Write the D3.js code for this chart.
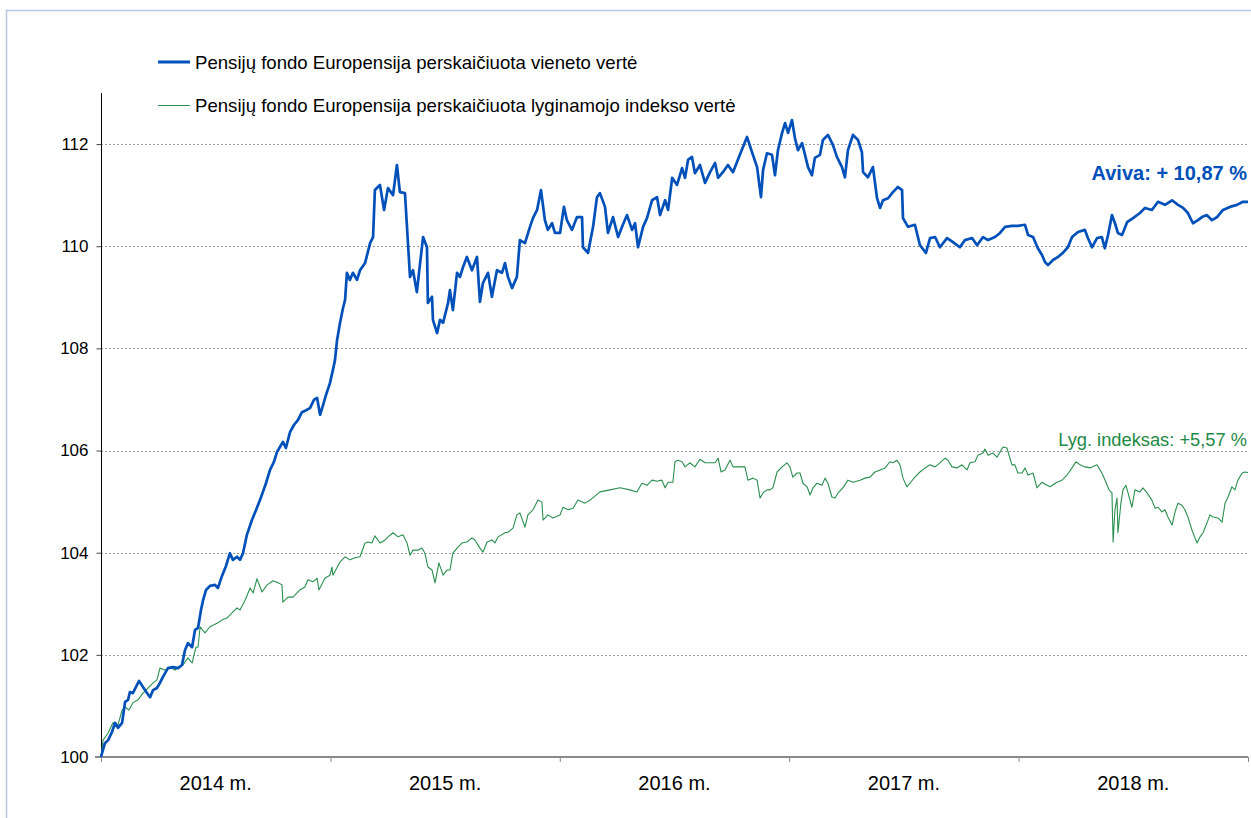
<!DOCTYPE html>
<html>
<head>
<meta charset="utf-8">
<script src="https://cdn.jsdelivr.net/npm/d3@7"></script>
<style>
  body { margin: 0; background: #fff; }
  svg { display: block; font-family: "Liberation Sans", Arial, sans-serif; }
</style>
</head>
<body>
<svg id="chart"></svg>
<script>
// chart data (time in decimal years)
const yearLabels = ['2014 m.', '2015 m.', '2016 m.', '2017 m.', '2018 m.']
const yearTicks = [2014, 2015, 2016, 2017, 2018, 2019]
const valueTicks = [100, 102, 104, 106, 108, 110, 112]

const fundName = 'Pensijų fondo Europensija perskaičiuota vieneto vertė'
const indexName = 'Pensijų fondo Europensija perskaičiuota lyginamojo indekso vertė'
const fundNote = 'Aviva: + 10,87 %'
const indexNote = 'Lyg. indeksas: +5,57 %'

const fundT = [2014.000, 2014.017, 2014.031, 2014.048, 2014.061, 2014.074, 2014.092, 2014.105, 2014.118, 2014.126,
  2014.139, 2014.157, 2014.166, 2014.183, 2014.201, 2014.214, 2014.227, 2014.244, 2014.257, 2014.270,
  2014.292, 2014.314, 2014.336, 2014.353, 2014.366, 2014.379, 2014.397, 2014.410, 2014.423, 2014.436,
  2014.445, 2014.458, 2014.475, 2014.497, 2014.510, 2014.527, 2014.545, 2014.562, 2014.575, 2014.593,
  2014.606, 2014.619, 2014.636, 2014.658, 2014.671, 2014.693, 2014.706, 2014.719, 2014.737, 2014.754,
  2014.767, 2014.780, 2014.793, 2014.806, 2014.824, 2014.841, 2014.859, 2014.876, 2014.894, 2014.911,
  2014.928, 2014.942, 2014.955, 2014.968, 2014.981, 2014.998, 2015.011, 2015.020, 2015.029, 2015.042,
  2015.055, 2015.064, 2015.072, 2015.085, 2015.098, 2015.116, 2015.129, 2015.151, 2015.173, 2015.186,
  2015.194, 2015.216, 2015.234, 2015.251, 2015.273, 2015.290, 2015.303, 2015.325, 2015.347, 2015.360,
  2015.377, 2015.391, 2015.404, 2015.421, 2015.425, 2015.443, 2015.447, 2015.465, 2015.478, 2015.491,
  2015.513, 2015.521, 2015.534, 2015.552, 2015.565, 2015.578, 2015.595, 2015.617, 2015.639, 2015.652,
  2015.665, 2015.687, 2015.704, 2015.726, 2015.748, 2015.761, 2015.774, 2015.792, 2015.813, 2015.826,
  2015.848, 2015.870, 2015.883, 2015.901, 2015.918, 2015.935, 2015.948, 2015.966, 2015.979, 2016.001,
  2016.018, 2016.031, 2016.053, 2016.075, 2016.097, 2016.101, 2016.123, 2016.145, 2016.162, 2016.175,
  2016.197, 2016.210, 2016.232, 2016.254, 2016.275, 2016.293, 2016.315, 2016.328, 2016.341, 2016.363,
  2016.380, 2016.402, 2016.424, 2016.437, 2016.459, 2016.472, 2016.490, 2016.511, 2016.533, 2016.546,
  2016.559, 2016.576, 2016.589, 2016.611, 2016.633, 2016.655, 2016.677, 2016.690, 2016.711, 2016.733,
  2016.755, 2016.785, 2016.816, 2016.838, 2016.860, 2016.877, 2016.886, 2016.903, 2016.925, 2016.938,
  2016.951, 2016.969, 2016.982, 2016.995, 2017.012, 2017.025, 2017.038, 2017.056, 2017.069, 2017.082,
  2017.099, 2017.112, 2017.134, 2017.147, 2017.169, 2017.191, 2017.208, 2017.230, 2017.243, 2017.256,
  2017.278, 2017.300, 2017.317, 2017.322, 2017.343, 2017.365, 2017.383, 2017.396, 2017.409, 2017.431,
  2017.452, 2017.474, 2017.492, 2017.496, 2017.518, 2017.548, 2017.570, 2017.596, 2017.614, 2017.636,
  2017.657, 2017.688, 2017.714, 2017.744, 2017.766, 2017.797, 2017.819, 2017.845, 2017.867, 2017.897,
  2017.919, 2017.941, 2017.971, 2017.997, 2018.028, 2018.041, 2018.063, 2018.084, 2018.102, 2018.115,
  2018.128, 2018.150, 2018.172, 2018.193, 2018.215, 2018.233, 2018.259, 2018.289, 2018.302, 2018.320,
  2018.342, 2018.363, 2018.376, 2018.390, 2018.407, 2018.420, 2018.433, 2018.451, 2018.473, 2018.499,
  2018.529, 2018.551, 2018.581, 2018.608, 2018.638, 2018.669, 2018.695, 2018.717, 2018.738, 2018.760,
  2018.782, 2018.799, 2018.821, 2018.843, 2018.865, 2018.891, 2018.921, 2018.952, 2018.978, 2019.000]

const fundV = [100.00, 100.27, 100.33, 100.49, 100.67, 100.57, 100.67, 101.08, 101.12, 101.27,
  101.25, 101.41, 101.49, 101.37, 101.25, 101.17, 101.31, 101.35, 101.45, 101.57,
  101.74, 101.76, 101.74, 101.80, 102.09, 102.23, 102.15, 102.49, 102.53, 102.88,
  103.07, 103.27, 103.35, 103.37, 103.31, 103.54, 103.74, 103.99, 103.86, 103.92,
  103.86, 103.99, 104.35, 104.64, 104.78, 105.03, 105.19, 105.36, 105.62, 105.78,
  105.97, 106.07, 106.17, 106.05, 106.36, 106.50, 106.60, 106.75, 106.79, 106.83,
  106.99, 107.03, 106.70, 106.89, 107.09, 107.32, 107.58, 107.77, 108.16, 108.50,
  108.79, 108.95, 109.48, 109.34, 109.48, 109.34, 109.53, 109.67, 110.06, 110.18,
  111.10, 111.20, 110.71, 111.14, 111.00, 111.59, 111.06, 111.04, 109.40, 109.53,
  109.10, 109.67, 110.18, 109.98, 108.89, 109.01, 108.56, 108.30, 108.56, 108.50,
  108.89, 109.14, 108.75, 109.48, 109.40, 109.59, 109.79, 109.53, 109.79, 108.91,
  109.28, 109.48, 109.01, 109.53, 109.48, 109.67, 109.40, 109.18, 109.40, 110.12,
  110.06, 110.38, 110.55, 110.71, 111.10, 110.51, 110.32, 110.45, 110.26, 110.26,
  110.77, 110.51, 110.32, 110.57, 110.57, 109.98, 109.87, 110.38, 110.96, 111.04,
  110.77, 110.26, 110.57, 110.18, 110.42, 110.61, 110.32, 110.45, 109.98, 110.38,
  110.55, 110.90, 110.96, 110.61, 110.90, 110.71, 111.34, 111.20, 111.53, 111.34,
  111.69, 111.75, 111.43, 111.59, 111.24, 111.45, 111.63, 111.34, 111.45, 111.59,
  111.45, 111.79, 112.14, 111.84, 111.55, 110.96, 111.49, 111.82, 111.79, 111.39,
  111.88, 112.22, 112.41, 112.22, 112.47, 112.12, 111.88, 112.02, 111.79, 111.55,
  111.39, 111.73, 111.79, 112.08, 112.18, 111.98, 111.75, 111.55, 111.35, 111.88,
  112.18, 112.08, 111.84, 111.45, 111.35, 111.55, 110.94, 110.75, 110.90, 110.94,
  111.06, 111.16, 111.10, 110.55, 110.38, 110.42, 110.02, 109.87, 110.16, 110.18,
  109.98, 110.16, 110.08, 109.98, 110.12, 110.16, 110.02, 110.18, 110.12, 110.18,
  110.26, 110.38, 110.40, 110.40, 110.42, 110.22, 110.18, 109.96, 109.83, 109.69,
  109.63, 109.73, 109.79, 109.87, 109.98, 110.18, 110.28, 110.32, 110.16, 109.98,
  110.16, 110.18, 109.96, 110.22, 110.61, 110.45, 110.26, 110.22, 110.47, 110.55,
  110.65, 110.75, 110.71, 110.87, 110.81, 110.90, 110.81, 110.75, 110.65, 110.45,
  110.51, 110.57, 110.61, 110.51, 110.57, 110.71, 110.77, 110.81, 110.87, 110.87]

const indexT = [2014.000, 2014.009, 2014.031, 2014.052, 2014.074, 2014.092, 2014.105, 2014.122, 2014.139, 2014.161,
  2014.183, 2014.205, 2014.227, 2014.244, 2014.257, 2014.279, 2014.301, 2014.323, 2014.336, 2014.357,
  2014.379, 2014.397, 2014.414, 2014.423, 2014.432, 2014.453, 2014.475, 2014.506, 2014.527, 2014.549,
  2014.571, 2014.593, 2014.606, 2014.628, 2014.650, 2014.663, 2014.680, 2014.702, 2014.724, 2014.750,
  2014.772, 2014.789, 2014.793, 2014.815, 2014.837, 2014.867, 2014.889, 2014.902, 2014.924, 2014.942,
  2014.950, 2014.976, 2014.998, 2015.007, 2015.011, 2015.042, 2015.064, 2015.085, 2015.107, 2015.129,
  2015.151, 2015.164, 2015.181, 2015.194, 2015.216, 2015.238, 2015.251, 2015.273, 2015.295, 2015.316,
  2015.334, 2015.347, 2015.360, 2015.382, 2015.399, 2015.412, 2015.425, 2015.443, 2015.456, 2015.473,
  2015.491, 2015.508, 2015.521, 2015.534, 2015.552, 2015.574, 2015.595, 2015.617, 2015.630, 2015.652,
  2015.665, 2015.683, 2015.704, 2015.717, 2015.731, 2015.761, 2015.774, 2015.796, 2015.813, 2015.826,
  2015.848, 2015.861, 2015.883, 2015.905, 2015.922, 2015.927, 2015.948, 2015.970, 2016.001, 2016.014,
  2016.036, 2016.058, 2016.079, 2016.110, 2016.132, 2016.175, 2016.219, 2016.262, 2016.306, 2016.336,
  2016.358, 2016.380, 2016.402, 2016.424, 2016.445, 2016.459, 2016.472, 2016.493, 2016.502, 2016.515,
  2016.533, 2016.546, 2016.567, 2016.589, 2016.611, 2016.633, 2016.655, 2016.677, 2016.690, 2016.703,
  2016.720, 2016.742, 2016.755, 2016.777, 2016.807, 2016.820, 2016.842, 2016.860, 2016.873, 2016.886,
  2016.903, 2016.916, 2016.929, 2016.947, 2016.969, 2016.990, 2017.003, 2017.016, 2017.034, 2017.047,
  2017.060, 2017.078, 2017.091, 2017.104, 2017.121, 2017.143, 2017.156, 2017.169, 2017.186, 2017.200,
  2017.213, 2017.234, 2017.256, 2017.278, 2017.309, 2017.330, 2017.352, 2017.374, 2017.396, 2017.418,
  2017.439, 2017.452, 2017.470, 2017.483, 2017.496, 2017.513, 2017.526, 2017.548, 2017.570, 2017.592,
  2017.614, 2017.636, 2017.657, 2017.679, 2017.692, 2017.710, 2017.731, 2017.753, 2017.775, 2017.788,
  2017.810, 2017.823, 2017.845, 2017.853, 2017.867, 2017.888, 2017.906, 2017.919, 2017.932, 2017.949,
  2017.971, 2017.984, 2017.997, 2018.015, 2018.028, 2018.041, 2018.063, 2018.080, 2018.102, 2018.124,
  2018.137, 2018.167, 2018.189, 2018.211, 2018.233, 2018.250, 2018.268, 2018.289, 2018.311, 2018.342,
  2018.363, 2018.381, 2018.394, 2018.407, 2018.412, 2018.420, 2018.429, 2018.433, 2018.446, 2018.455,
  2018.468, 2018.477, 2018.494, 2018.507, 2018.529, 2018.542, 2018.560, 2018.581, 2018.595, 2018.608,
  2018.625, 2018.638, 2018.651, 2018.669, 2018.682, 2018.695, 2018.712, 2018.725, 2018.738, 2018.756,
  2018.769, 2018.778, 2018.791, 2018.804, 2018.821, 2018.834, 2018.847, 2018.869, 2018.887, 2018.900,
  2018.913, 2018.930, 2018.943, 2018.956, 2018.974, 2018.987, 2019.000]

const indexV = [100.00, 100.33, 100.47, 100.67, 100.63, 100.92, 100.98, 100.92, 101.06, 101.12,
  101.25, 101.35, 101.45, 101.51, 101.74, 101.70, 101.76, 101.70, 101.76, 101.80,
  101.94, 101.84, 102.15, 102.15, 102.55, 102.43, 102.55, 102.62, 102.68, 102.72,
  102.82, 102.92, 102.88, 103.07, 103.31, 103.21, 103.49, 103.23, 103.37, 103.45,
  103.41, 103.37, 103.03, 103.13, 103.13, 103.27, 103.33, 103.47, 103.43, 103.50,
  103.27, 103.50, 103.56, 103.72, 103.56, 103.82, 103.92, 103.86, 103.90, 103.92,
  104.19, 104.21, 104.19, 104.33, 104.19, 104.25, 104.31, 104.39, 104.31, 104.35,
  104.19, 103.95, 104.05, 104.05, 104.09, 103.99, 103.72, 103.66, 103.41, 103.80,
  103.56, 103.66, 103.66, 103.99, 104.09, 104.19, 104.21, 104.29, 104.25, 104.09,
  104.01, 104.21, 104.25, 104.19, 104.31, 104.39, 104.40, 104.48, 104.74, 104.78,
  104.50, 104.74, 104.84, 105.03, 104.99, 104.64, 104.74, 104.68, 104.74, 104.89,
  104.84, 104.87, 105.03, 104.97, 105.03, 105.19, 105.23, 105.27, 105.23, 105.19,
  105.36, 105.32, 105.42, 105.40, 105.42, 105.27, 105.38, 105.38, 105.78, 105.81,
  105.78, 105.68, 105.76, 105.68, 105.83, 105.76, 105.76, 105.76, 105.85, 105.58,
  105.62, 105.81, 105.68, 105.68, 105.68, 105.42, 105.46, 105.42, 105.07, 105.17,
  105.23, 105.23, 105.27, 105.58, 105.68, 105.76, 105.68, 105.48, 105.56, 105.56,
  105.36, 105.29, 105.13, 105.27, 105.36, 105.32, 105.46, 105.36, 105.09, 105.07,
  105.17, 105.27, 105.42, 105.38, 105.42, 105.46, 105.48, 105.58, 105.62, 105.66,
  105.78, 105.76, 105.81, 105.72, 105.46, 105.29, 105.36, 105.48, 105.58, 105.66,
  105.72, 105.68, 105.76, 105.85, 105.81, 105.68, 105.66, 105.72, 105.62, 105.76,
  105.78, 105.91, 105.95, 106.03, 105.91, 105.95, 105.87, 105.97, 106.07, 106.05,
  105.72, 105.72, 105.56, 105.56, 105.66, 105.52, 105.56, 105.27, 105.38, 105.32,
  105.29, 105.38, 105.42, 105.52, 105.66, 105.78, 105.72, 105.68, 105.66, 105.72,
  105.56, 105.38, 105.23, 105.17, 104.21, 104.84, 105.07, 104.39, 104.97, 105.23,
  105.32, 105.17, 104.89, 105.23, 105.19, 105.27, 105.17, 105.03, 104.87, 104.89,
  104.80, 104.84, 104.70, 104.54, 104.80, 104.97, 104.93, 104.84, 104.70, 104.44,
  104.29, 104.19, 104.31, 104.39, 104.58, 104.74, 104.70, 104.68, 104.60, 104.97,
  105.09, 105.29, 105.23, 105.42, 105.56, 105.58, 105.57]

const width = 1251
const height = 818
const margin = { left: 101, right: 3, top: 93, bottom: 61 }

const blue = '#0050b9'
const green = '#2a8f4f'

let svg = d3.select('#chart')
    .attr('width', width)
    .attr('height', height)

let xScale = d3.scaleLinear()
    .domain([2014, 2019])
    .range([margin.left, width - margin.right])

let yScale = d3.scaleLinear()
    .domain([100, 113])
    .range([height - margin.bottom, margin.top])

// outer frame
svg.append('rect')
    .attr('x', 6.5)
    .attr('y', 10.5)
    .attr('width', width + 20)
    .attr('height', height + 20)
    .attr('fill', 'none')
    .attr('stroke', '#b7c8e2')
    .attr('stroke-width', 1.5)

// dashed grid lines
svg.append('g')
    .selectAll('line')
    .data(valueTicks.filter(v => v > 100))
    .enter()
    .append('line')
    .attr('x1', xScale(2014))
    .attr('x2', xScale(2019))
    .attr('y1', d => Math.round(yScale(d)) + 0.5)
    .attr('y2', d => Math.round(yScale(d)) + 0.5)
    .attr('stroke', '#9a9a9a')
    .attr('stroke-dasharray', '2,2')

// y axis
let yAxis = d3.axisLeft(yScale)
    .tickValues(valueTicks)
    .tickSize(5)
    .tickPadding(8)
    .tickFormat(d3.format('d'))

let gy = svg.append('g')
    .attr('transform', 'translate(' + (margin.left + 0.5) + ',0)')
    .call(yAxis)
gy.select('.domain')
    .attr('d', 'M0,' + margin.top + 'V' + yScale(100))
    .attr('stroke', '#000')
gy.selectAll('.tick line').attr('stroke', '#444')
gy.selectAll('.tick text')
    .attr('font-size', 17)
    .attr('fill', '#000')
    .style('font-family', '"Liberation Sans", Arial, sans-serif')

// x axis (year boundaries), labels centred inside each year
let xAxis = d3.axisBottom(xScale)
    .tickValues(yearTicks)
    .tickSize(5)
    .tickFormat('')

let gx = svg.append('g')
    .attr('transform', 'translate(0,' + yScale(100) + ')')
    .call(xAxis)
gx.select('.domain')
    .attr('d', 'M' + (margin.left - 6) + ',0H' + xScale(2019))
    .attr('stroke', '#8a8a8a')
    .attr('stroke-width', 2)
gx.selectAll('.tick line').attr('stroke', '#8a8a8a')

svg.append('g')
    .selectAll('text')
    .data(yearLabels)
    .enter()
    .append('text')
    .attr('x', (d, i) => xScale(yearTicks[i] + 0.5))
    .attr('y', yScale(100) + 33)
    .attr('text-anchor', 'middle')
    .attr('font-size', 20)
    .attr('fill', '#000')
    .text(d => d)

// lines
let indexData = indexT.map((t, i) => [t, indexV[i]])
let fundData = fundT.map((t, i) => [t, fundV[i]])

let line = d3.line()
    .x(d => xScale(d[0]))
    .y(d => yScale(d[1]))

svg.append('path')
    .datum(indexData)
    .attr('d', line)
    .attr('fill', 'none')
    .attr('stroke', green)
    .attr('stroke-width', 1.1)
    .attr('stroke-linejoin', 'round')

svg.append('path')
    .datum(fundData)
    .attr('d', line)
    .attr('fill', 'none')
    .attr('stroke', blue)
    .attr('stroke-width', 2.7)
    .attr('stroke-linejoin', 'round')

// legend
let legend = svg.append('g')
legend.append('line')
    .attr('x1', 158).attr('x2', 190)
    .attr('y1', 62).attr('y2', 62)
    .attr('stroke', blue).attr('stroke-width', 3)
legend.append('text')
    .attr('x', 195).attr('y', 68.5)
    .attr('font-size', 18.6)
    .text(fundName)
legend.append('line')
    .attr('x1', 158).attr('x2', 190)
    .attr('y1', 105.5).attr('y2', 105.5)
    .attr('stroke', green).attr('stroke-width', 1)
legend.append('text')
    .attr('x', 195).attr('y', 111.5)
    .attr('font-size', 18.6)
    .text(indexName)

// end-value notes
svg.append('text')
    .attr('x', 1247).attr('y', 180)
    .attr('text-anchor', 'end')
    .attr('font-size', 20)
    .attr('font-weight', 'bold')
    .attr('fill', blue)
    .text(fundNote)

svg.append('text')
    .attr('x', 1247).attr('y', 446)
    .attr('text-anchor', 'end')
    .attr('font-size', 18.3)
    .attr('fill', '#1f8a45')
    .text(indexNote)
</script>
</body>
</html>
